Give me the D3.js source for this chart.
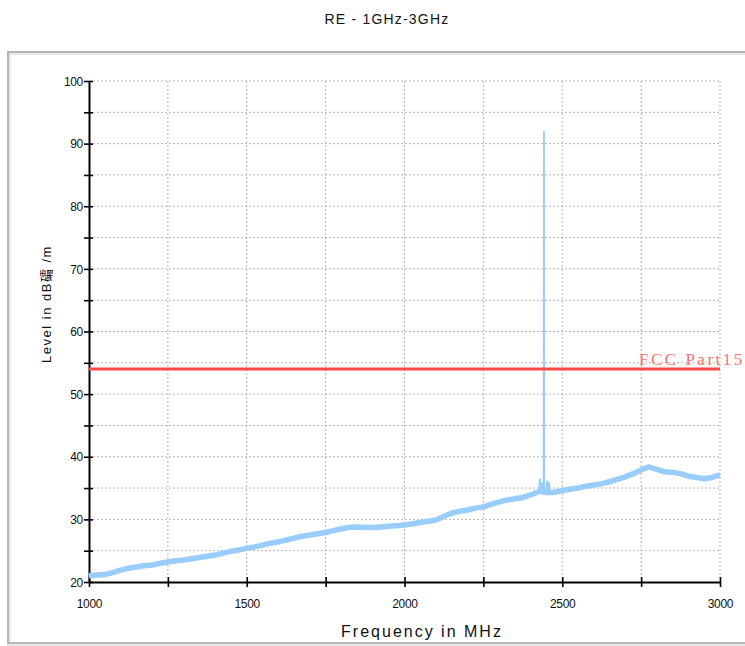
<!DOCTYPE html>
<html>
<head>
<meta charset="utf-8">
<script src="https://cdn.jsdelivr.net/npm/d3@7"></script>
<style>
  html, body { margin: 0; padding: 0; background: #fff; }
  svg { display: block; }
</style>
</head>
<body>
<svg id="chart" width="745" height="646"></svg>
<script>
// ---- data ----
const title = "RE - 1GHz-3GHz";
const xLabel = "Frequency in MHz";
const yLabel = "Level in dB礵 /m";
const limitLabel = "FCC Part15";
const limitLevel = 54;
const xTickLabels = [1000, 1500, 2000, 2500, 3000];
const yTickLabels = [20, 30, 40, 50, 60, 70, 80, 90, 100];

// baseline (noise floor) trace, MHz / dBµV/m
const baseFreq = [1000,1025,1050,1075,1100,1125,1150,1175,1200,1225,1250,1275,1300,1325,1350,1375,1400,1425,1450,1475,
  1500,1525,1550,1575,1600,1625,1650,1675,1700,1725,1750,1775,1800,1825,1850,1875,1900,1925,1950,1975,
  2000,2025,2050,2075,2100,2125,2150,2175,2200,2225,2250,2275,2300,2325,2350,2375,2400,2420,2430,2450,
  2470,2500,2525,2550,2575,2600,2625,2650,2675,2700,2725,2750,2775,2800,2825,2850,2875,2900,2925,2950,2975,3000];
const baseLevel = [21.0,21.1,21.2,21.5,21.9,22.2,22.4,22.6,22.7,23.0,23.2,23.4,23.5,23.7,23.9,24.1,24.3,24.6,24.9,25.1,
  25.4,25.6,25.9,26.2,26.4,26.7,27.0,27.3,27.5,27.7,27.9,28.2,28.5,28.7,28.8,28.7,28.7,28.8,28.9,29.0,
  29.1,29.3,29.5,29.7,29.9,30.5,31.0,31.3,31.5,31.8,32.0,32.4,32.8,33.1,33.3,33.5,33.9,34.3,34.5,34.3,
  34.3,34.6,34.8,35.0,35.3,35.5,35.7,36.0,36.4,36.8,37.3,37.9,38.4,38.0,37.6,37.5,37.3,36.9,36.7,36.5,36.7,37.1];

// narrow emissions around 2.44 GHz
const spikeFreq = [2426,2429,2431,2434,2436,2438,2441,2442,2443,2446,2450,2452,2454,2456,2458,2461];
const spikeLevel = [34.4,36.5,34.5,34.6,35.9,34.4,34.5,92.0,34.5,34.4,34.3,36.2,34.3,34.4,36.0,34.3];

// ---- drawing ----
const svg = d3.select("#chart");
const pLeft = 89, pRight = 720, pTop = 81, pBottom = 582;
const x = d3.scaleLinear().domain([1000, 3000]).range([pLeft, pRight]);
const y = d3.scaleLinear().domain([20, 100]).range([pBottom, pTop]);

// outer frame
svg.append("rect").attr("x", 9).attr("y", 53).attr("width", 760).attr("height", 591)
  .attr("fill", "none").attr("stroke", "#e6e6e6").attr("stroke-width", 4);
svg.append("rect").attr("x", 8).attr("y", 52).attr("width", 760).attr("height", 591)
  .attr("fill", "none").attr("stroke", "#a8a8a8").attr("stroke-width", 1.5);

// title
svg.append("text").attr("x", 387).attr("y", 24).attr("text-anchor", "middle")
  .attr("font-family", "Arial, 'Liberation Sans', sans-serif").attr("font-size", 14)
  .attr("letter-spacing", "1.2px").attr("fill", "#111").text(title);

// grid
const xGrid = d3.range(1000, 3001, 250);
const yGrid = d3.range(20, 101, 5);
svg.append("g").selectAll("line").data(xGrid.slice(1)).join("line")
  .attr("x1", d => x(d)).attr("x2", d => x(d)).attr("y1", pTop).attr("y2", pBottom)
  .attr("stroke", "#b4b4b4").attr("stroke-width", 1).attr("stroke-dasharray", "2,2");
svg.append("g").selectAll("line").data(yGrid.slice(1)).join("line")
  .attr("x1", pLeft).attr("x2", pRight).attr("y1", d => y(d)).attr("y2", d => y(d))
  .attr("stroke", "#b4b4b4").attr("stroke-width", 1).attr("stroke-dasharray", "2,2");

// axes
const xAxis = d3.axisBottom(x).tickValues(xGrid).tickSize(0).tickFormat("");
const gx = svg.append("g").attr("transform", `translate(0,${pBottom})`).call(xAxis);
gx.select(".domain").attr("stroke", "#000").attr("stroke-width", 2);
gx.selectAll(".tick").append("line").attr("y1", -5).attr("y2", 5).attr("stroke", "#000").attr("stroke-width", 1.6);
gx.selectAll(".tick").filter(d => xTickLabels.includes(d)).append("text")
  .attr("y", 26).attr("fill", "#111").attr("text-anchor", "middle")
  .attr("font-family", "Arial, 'Liberation Sans', sans-serif").attr("font-size", 12)
  .attr("letter-spacing", "-0.3px").text(d => d);

const yAxis = d3.axisLeft(y).tickValues(yGrid).tickSize(0).tickFormat("");
const gy = svg.append("g").attr("transform", `translate(${pLeft},0)`).call(yAxis);
gy.select(".domain").attr("stroke", "#000").attr("stroke-width", 2);
gy.selectAll(".tick").append("line").attr("x1", -5).attr("x2", 4).attr("stroke", "#000").attr("stroke-width", 1.6);
gy.selectAll(".tick").filter(d => yTickLabels.includes(d)).append("text")
  .attr("x", -6).attr("dy", "0.35em").attr("fill", "#111").attr("text-anchor", "end")
  .attr("font-family", "Arial, 'Liberation Sans', sans-serif").attr("font-size", 12)
  .attr("letter-spacing", "-0.3px").text(d => d);

// axis titles
svg.append("text").attr("x", 422).attr("y", 637).attr("text-anchor", "middle")
  .attr("font-family", "Arial, 'Liberation Sans', sans-serif").attr("font-size", 16)
  .attr("letter-spacing", "2px").attr("fill", "#111").text(xLabel);
svg.append("text").attr("transform", "translate(51,304) rotate(-90)").attr("text-anchor", "middle")
  .attr("font-family", "Arial, 'Liberation Sans', 'Noto Sans CJK SC', sans-serif").attr("font-size", 13)
  .attr("letter-spacing", "1.5px").attr("fill", "#111").text(yLabel);

// trace
const line = d3.line().x(d => x(d[0])).y(d => y(d[1]));
const base = baseFreq.map((f, i) => [f, baseLevel[i]]);
const spikes = spikeFreq.map((f, i) => [f, spikeLevel[i]]);
svg.append("path").attr("d", line(base)).attr("fill", "none")
  .attr("stroke", "#99ccff").attr("stroke-width", 5.5).attr("stroke-linejoin", "round");
svg.append("path").attr("d", line(spikes)).attr("fill", "none")
  .attr("stroke", "#99ccff").attr("stroke-width", 1.8);

// limit line
svg.append("line").attr("x1", pLeft).attr("x2", pRight).attr("y1", y(limitLevel)).attr("y2", y(limitLevel))
  .attr("stroke", "#ff4848").attr("stroke-width", 3);
svg.append("text").attr("x", 639).attr("y", 365)
  .attr("font-family", "'Liberation Serif', 'DejaVu Serif', serif").attr("font-size", 17)
  .attr("letter-spacing", "2.5px").attr("fill", "#ff7070").text(limitLabel);
</script>
</body>
</html>
